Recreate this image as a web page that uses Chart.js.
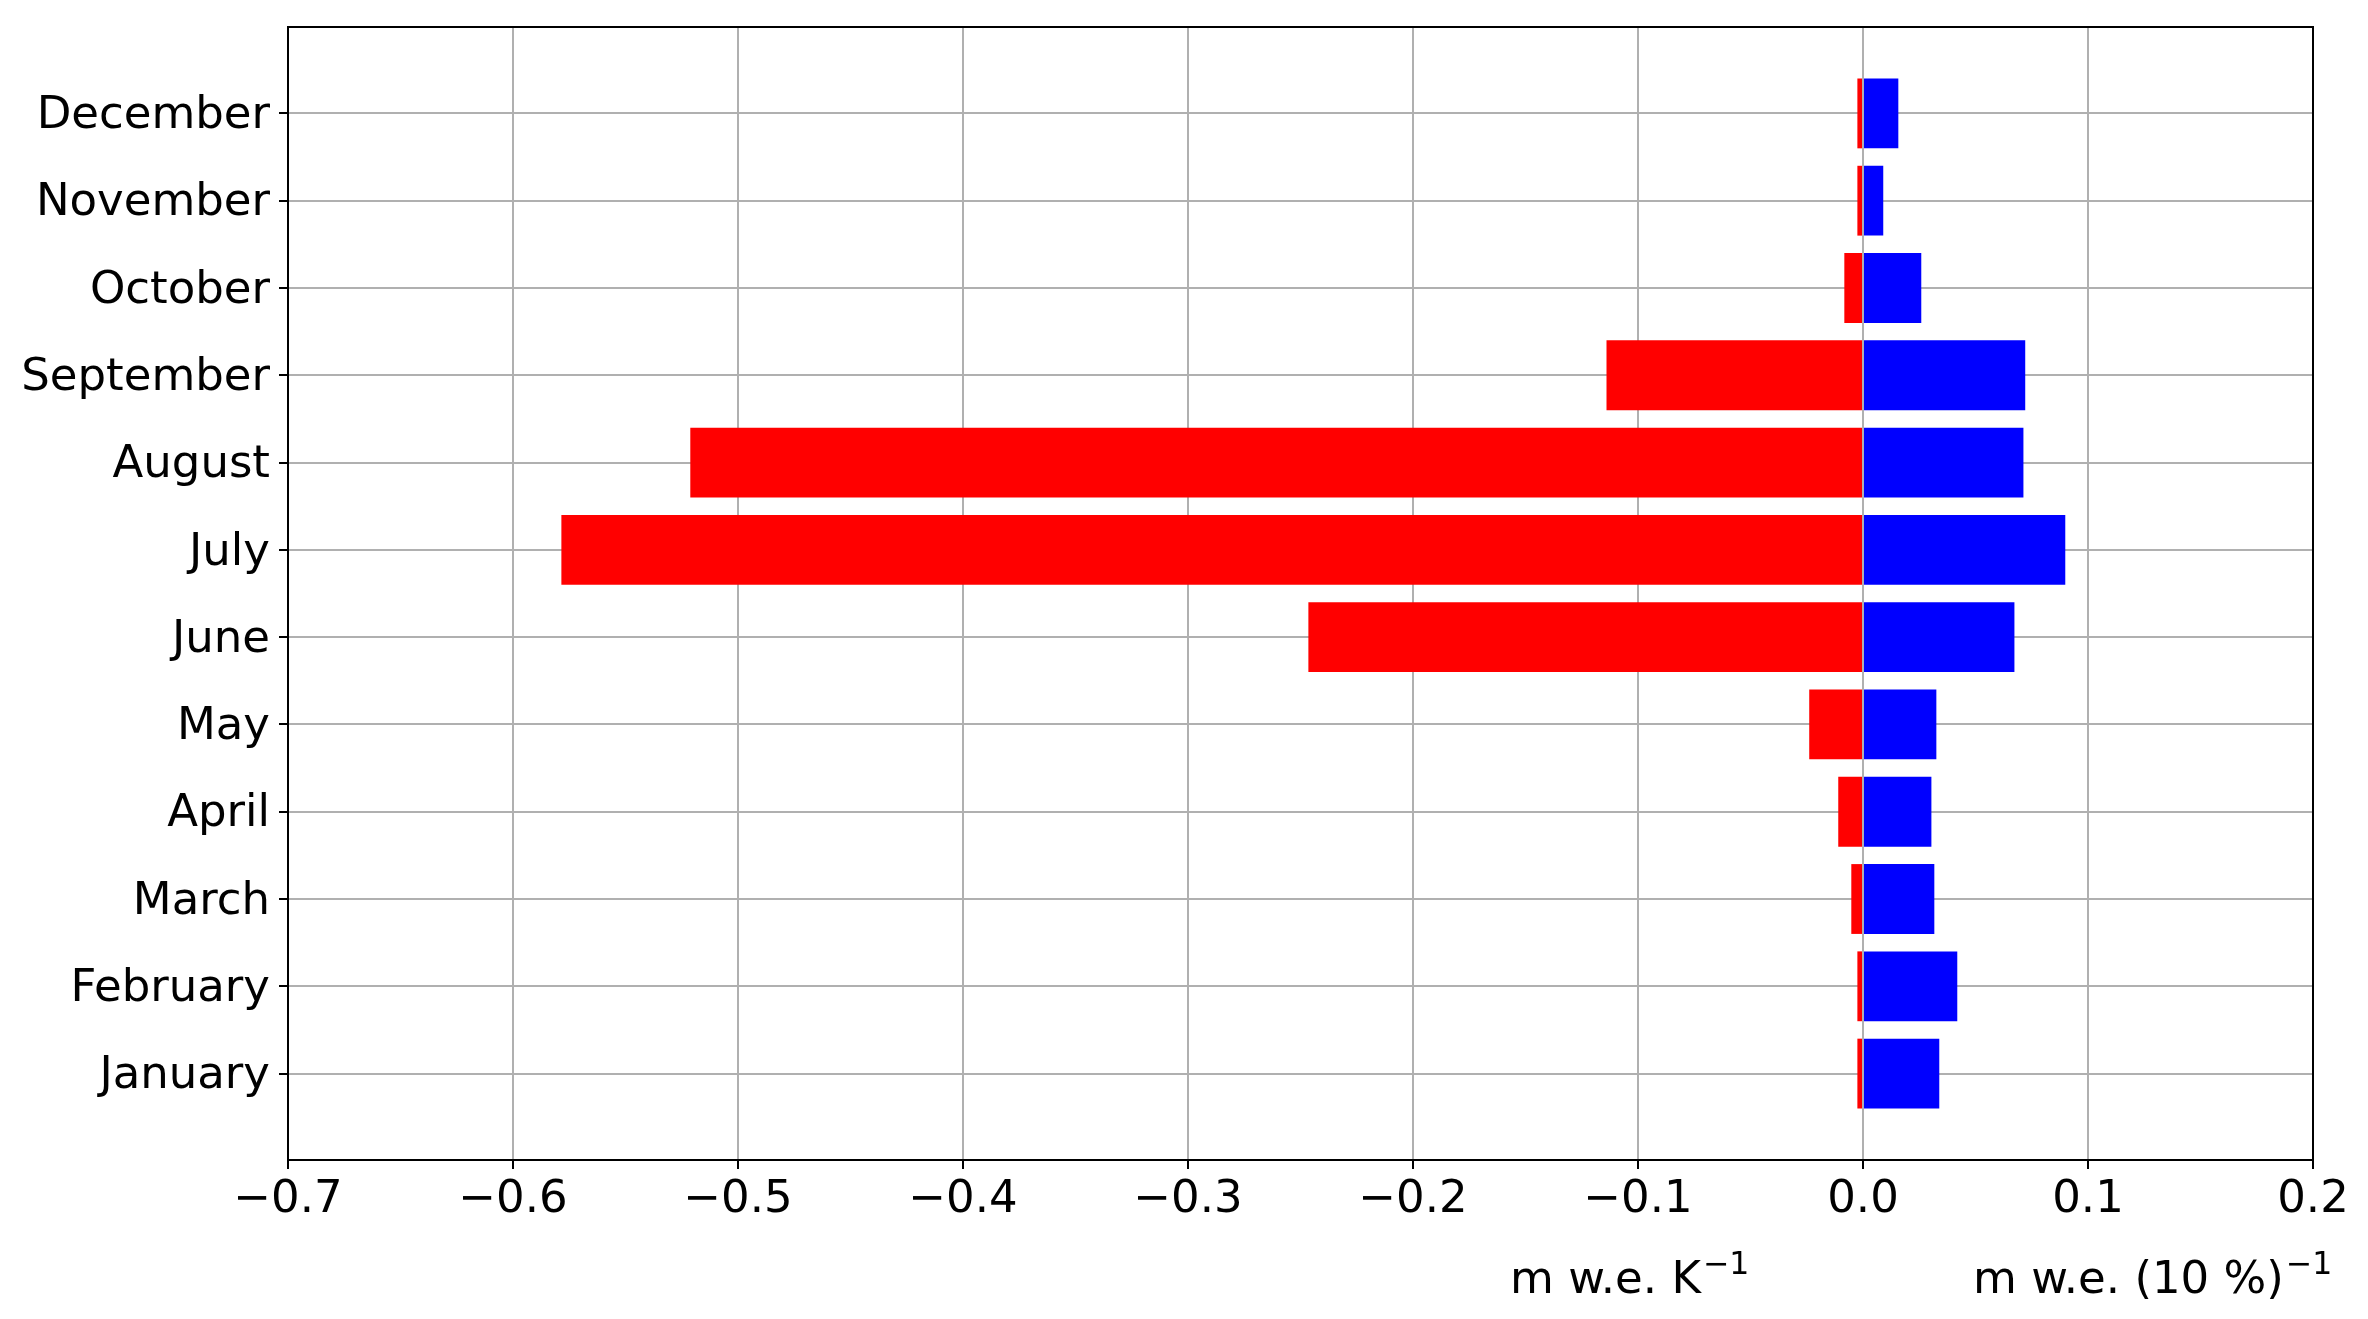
<!DOCTYPE html>
<html>
<head>
<meta charset="utf-8">
<script src="https://cdn.jsdelivr.net/npm/chart.js@4"></script>
<style>
  html, body { margin: 0; padding: 0; background: #fff; }
  #wrap { width: 2368px; height: 1319px; position: relative; }
</style>
</head>
<body>
<div id="wrap"><canvas id="chart"></canvas></div>
<script>
const months = ["January", "February", "March", "April", "May", "June",
  "July", "August", "September", "October", "November", "December"];
// m w.e. K^-1
const tempSensitivity = [-0.0025, -0.0025, -0.0052, -0.011, -0.0239, -0.2465,
  -0.5785, -0.5212, -0.114, -0.0083, -0.0025, -0.0025];
// m w.e. (10 %)^-1
const precipSensitivity = [0.0339, 0.0419, 0.0317, 0.0304, 0.0326, 0.0673,
  0.0899, 0.0713, 0.0721, 0.0259, 0.009, 0.0157];
const xTicks = [-0.7, -0.6, -0.5, -0.4, -0.3, -0.2, -0.1, 0.0, 0.1, 0.2];

const FONT = "'DejaVu Sans', sans-serif";

const fmt = (v) => {
  if (Math.abs(v) < 1e-9) return "0.0";
  return (v < 0 ? "\u2212" : "") + Math.abs(v).toFixed(1);
};

const toPoints = (arr) => arr.map((v, i) => ({ x: v, y: i }));

// frame + unit labels under the axis
const framePlugin = {
  id: "frame",
  afterDraw(chart) {
    const { ctx, chartArea: a } = chart;
    ctx.save();
    ctx.strokeStyle = "#000";
    ctx.lineWidth = 2;
    ctx.strokeRect(a.left, a.top, a.right - a.left, a.bottom - a.top);

    const unit = (x, main) => {
      ctx.fillStyle = "#000";
      ctx.textBaseline = "alphabetic";
      ctx.textAlign = "left";
      ctx.font = "45px " + FONT;
      ctx.fillText(main, x, 1293);
      const w = ctx.measureText(main).width;
      ctx.font = "31.5px " + FONT;
      ctx.fillText("\u22121", x + w + 2, 1274);
    };
    unit(1510, "m w.e. K");
    unit(1973, "m w.e. (10 %)");
    ctx.restore();
  }
};

const ctx = document.getElementById("chart").getContext("2d");
try {
  new Chart(ctx, {
    type: "bar",
    data: {
      datasets: [
        {
          label: "temperature",
          data: toPoints(tempSensitivity),
          backgroundColor: "#ff0000",
          borderWidth: 0,
          grouped: false,
          barPercentage: 0.8,
          categoryPercentage: 1.0,
        },
        {
          label: "precipitation",
          data: toPoints(precipSensitivity),
          backgroundColor: "#0000ff",
          borderWidth: 0,
          grouped: false,
          barPercentage: 0.8,
          categoryPercentage: 1.0,
        },
      ],
    },
    options: {
      indexAxis: "y",
      responsive: true,
      maintainAspectRatio: false,
      animation: false,
      layout: { padding: { left: 0, right: 55, top: 27, bottom: 0 } },
      plugins: { legend: { display: false }, tooltip: { enabled: false } },
      scales: {
        x: {
          type: "linear",
          min: -0.7,
          max: 0.2,
          z: 1,
          afterBuildTicks: (scale) => {
            scale.ticks = xTicks.map((v) => ({ value: v }));
          },
          afterFit: (scale) => { scale.height = 159; },
          grid: {
            color: "#b0b0b0",
            lineWidth: 2,
            tickColor: "#000",
            tickLength: 9,
            tickWidth: 2,
          },
          border: { display: true, color: "#000", width: 2 },
          ticks: {
            color: "#000",
            font: { family: FONT, size: 45 },
            padding: 4,
            maxRotation: 0,
            autoSkip: false,
            callback: (v) => fmt(v),
          },
        },
        y: {
          type: "linear",
          min: -0.99,
          max: 11.99,
          offset: false,
          z: 1,
          afterBuildTicks: (scale) => {
            scale.ticks = months.map((_, i) => ({ value: i }));
          },
          afterFit: (scale) => {
            scale.width = 288;
            scale.paddingTop = 0;
            scale.paddingBottom = 0;
          },
          grid: {
            offset: false,
            color: "#b0b0b0",
            lineWidth: 2,
            tickColor: "#000",
            tickLength: 9,
            tickWidth: 2,
          },
          border: { display: true, color: "#000", width: 2 },
          ticks: {
            color: "#000",
            font: { family: FONT, size: 45 },
            padding: 9,
            labelOffset: 3,
            autoSkip: false,
            callback: (v) => months[v],
          },
        },
      },
    },
    plugins: [framePlugin],
  });
} catch (error) {
  console.error("Error creating the chart:", error);
}
</script>
</body>
</html>
